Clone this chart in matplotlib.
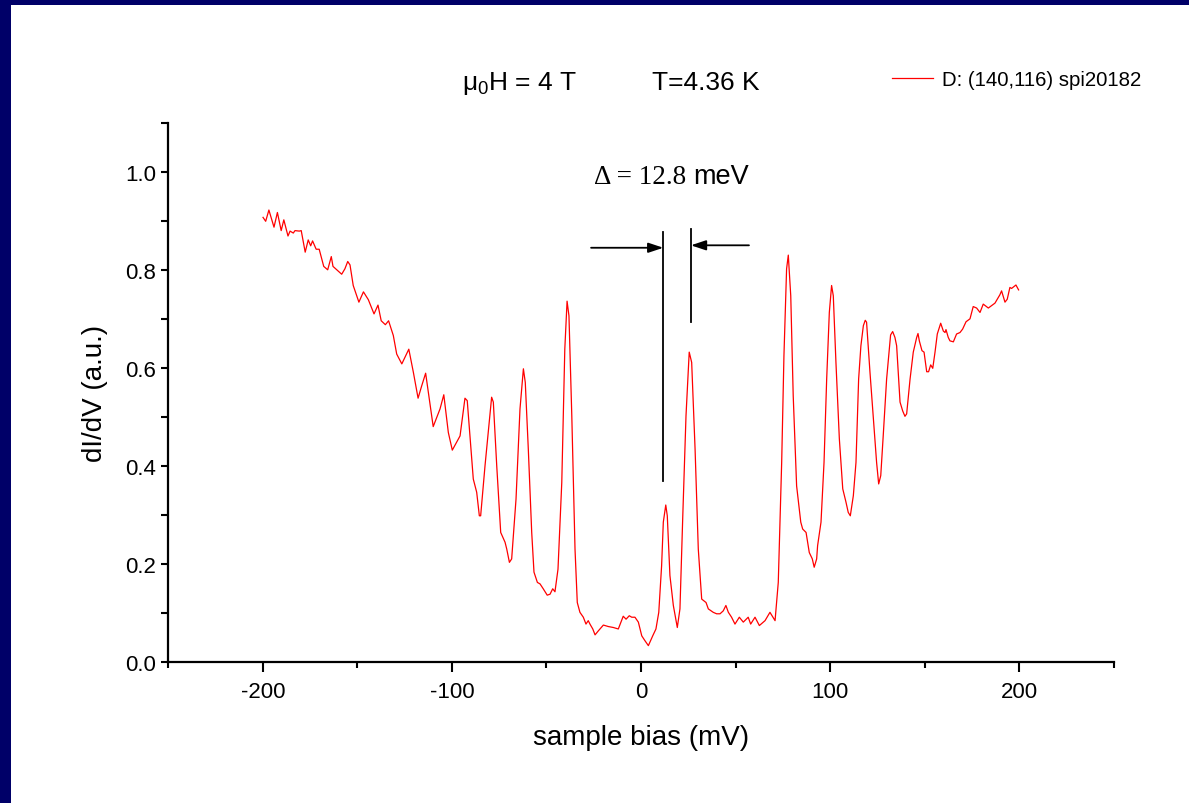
import matplotlib
matplotlib.use("Agg")
import matplotlib.pyplot as plt
from matplotlib.patches import Rectangle
from matplotlib.ticker import MultipleLocator

plt.rcParams['font.family'] = ['Liberation Sans', 'DejaVu Sans']
plt.rcParams['mathtext.fontset'] = 'custom'
plt.rcParams['mathtext.rm'] = 'Liberation Sans'
plt.rcParams['mathtext.it'] = 'Liberation Sans'
plt.rcParams['mathtext.bf'] = 'Liberation Sans:bold'

# ---------------- data ----------------
bias_mv = [-199.9, -198.5, -196.8, -194.1, -192.3, -190.3, -188.9, -186.7, -185.6, -183.9,
           -183.0, -180.7, -179.7, -177.6, -176.0, -174.7, -173.7, -171.8, -170.2, -167.8,
           -165.7, -163.8, -162.9, -160.9, -158.3, -156.6, -155.1, -153.9, -152.2, -149.2,
           -146.8, -144.2, -141.2, -139.1, -137.4, -135.2, -133.5, -131.0, -129.2, -126.5,
           -122.8, -120.4, -117.9, -116.0, -113.9, -109.9, -106.3, -104.3, -101.9, -99.8,
           -95.7, -93.1, -91.9, -88.7, -86.9, -85.5, -84.8, -82.5, -79.0, -78.1,
           -76.3, -74.2, -71.9, -71.0, -69.6, -68.4, -66.1, -64.0, -62.2, -61.2,
           -59.6, -57.8, -56.6, -54.8, -53.4, -51.7, -49.6, -48.1, -46.7, -45.5,
           -43.9, -41.9, -40.3, -39.1, -38.1, -36.6, -34.9, -33.7, -32.3, -30.5,
           -29.1, -27.9, -27.0, -25.5, -24.3, -22.6, -19.9, -17.3, -14.6, -12.0,
           -9.4, -7.9, -6.2, -4.9, -3.2, -1.4, 0.4, 2.1, 3.9, 6.2,
           7.9, 9.4, 10.9, 11.8, 13.1, 13.9, 15.3, 17.1, 19.2, 20.6,
           22.1, 23.8, 25.5, 26.8, 28.6, 30.3, 32.1, 34.4, 35.6, 38.2,
           40.0, 41.8, 43.5, 44.9, 46.2, 47.9, 49.7, 52.0, 54.1, 56.7,
           58.0, 60.3, 62.6, 65.6, 68.2, 70.9, 72.6, 74.4, 75.6, 77.0,
           77.9, 79.2, 80.5, 82.3, 84.5, 85.5, 87.3, 89.0, 90.6, 91.6,
           92.9, 93.4, 95.2, 96.8, 98.2, 99.6, 100.8, 101.7, 103.1, 104.9,
           106.7, 108.4, 109.6, 110.7, 112.3, 113.7, 115.1, 116.3, 117.6, 118.6,
           119.3, 121.1, 122.8, 124.6, 125.7, 126.8, 128.1, 129.9, 132.0, 133.1,
           134.3, 135.2, 137.0, 138.4, 139.6, 140.5, 142.3, 144.0, 145.8, 146.5,
           147.2, 148.6, 149.7, 151.1, 152.1, 153.2, 154.3, 155.5, 156.7, 158.5,
           159.9, 160.8, 161.3, 162.5, 163.4, 165.2, 166.9, 168.7, 170.1, 171.9,
           174.0, 175.7, 177.5, 179.3, 181.0, 183.7, 185.5, 187.2, 189.8, 190.7,
           192.5, 193.7, 195.1, 196.0, 198.3, 199.7]

didv = [0.908, 0.900, 0.923, 0.888, 0.918, 0.881, 0.903, 0.870, 0.880, 0.876,
        0.881, 0.880, 0.881, 0.837, 0.862, 0.850, 0.860, 0.843, 0.843, 0.808,
        0.801, 0.828, 0.808, 0.801, 0.792, 0.803, 0.818, 0.811, 0.769, 0.735,
        0.756, 0.740, 0.711, 0.729, 0.697, 0.689, 0.697, 0.667, 0.629, 0.609,
        0.639, 0.592, 0.539, 0.564, 0.590, 0.481, 0.517, 0.546, 0.469, 0.433,
        0.462, 0.539, 0.534, 0.374, 0.347, 0.299, 0.299, 0.401, 0.541, 0.531,
        0.401, 0.265, 0.245, 0.231, 0.204, 0.211, 0.333, 0.517, 0.599, 0.571,
        0.435, 0.265, 0.184, 0.163, 0.160, 0.150, 0.137, 0.139, 0.150, 0.144,
        0.190, 0.367, 0.639, 0.737, 0.707, 0.503, 0.231, 0.122, 0.102, 0.092,
        0.078, 0.085, 0.078, 0.068, 0.056, 0.064, 0.076, 0.073, 0.071, 0.068,
        0.094, 0.088, 0.095, 0.092, 0.092, 0.082, 0.054, 0.044, 0.034, 0.054,
        0.068, 0.102, 0.197, 0.286, 0.321, 0.299, 0.177, 0.116, 0.071, 0.109,
        0.299, 0.503, 0.633, 0.612, 0.435, 0.231, 0.129, 0.122, 0.109, 0.102,
        0.099, 0.099, 0.105, 0.116, 0.102, 0.092, 0.078, 0.092, 0.082, 0.092,
        0.078, 0.092, 0.075, 0.085, 0.102, 0.085, 0.163, 0.408, 0.626, 0.803,
        0.831, 0.748, 0.544, 0.360, 0.286, 0.272, 0.265, 0.224, 0.211, 0.194,
        0.211, 0.238, 0.286, 0.408, 0.578, 0.714, 0.769, 0.748, 0.612, 0.456,
        0.354, 0.327, 0.306, 0.299, 0.340, 0.408, 0.578, 0.646, 0.687, 0.698,
        0.694, 0.592, 0.503, 0.408, 0.364, 0.381, 0.462, 0.578, 0.668, 0.675,
        0.663, 0.646, 0.531, 0.513, 0.502, 0.507, 0.578, 0.633, 0.663, 0.671,
        0.656, 0.636, 0.633, 0.593, 0.593, 0.607, 0.600, 0.633, 0.670, 0.692,
        0.676, 0.673, 0.679, 0.663, 0.656, 0.654, 0.670, 0.673, 0.680, 0.695,
        0.701, 0.726, 0.723, 0.714, 0.731, 0.723, 0.728, 0.733, 0.750, 0.758,
        0.735, 0.741, 0.765, 0.763, 0.770, 0.760]

series_label = "D: (140,116) spi20182"
x_label = "sample bias (mV)"
y_label = "dI/dV (a.u.)"
field_text = r"$\mu_0$H = 4 T"
temp_text = "T=4.36 K"
gap_value_text = "\u0394 = 12.8"
gap_unit_text = "meV"

# gap marker geometry (data coordinates)
gap_left_x, gap_right_x = 11.8, 26.4
gap_left_y = (0.371, 0.878)
gap_right_y = (0.694, 0.885)
arrow_left = ((-26.4, 0.846), (11.8, 0.846))
arrow_right = ((57.1, 0.851), (26.4, 0.851))

# ---------------- figure ----------------
W, H = 1189, 804
fig = plt.figure(figsize=(W / 100, H / 100), dpi=100, facecolor='white')
navy = '#000068'
fig.add_artist(Rectangle((0, 1 - 6 / H), 1, 6 / H, transform=fig.transFigure,
                         facecolor=navy, edgecolor='none', zorder=0))
fig.add_artist(Rectangle((0, 0), 11 / W, 1, transform=fig.transFigure,
                         facecolor=navy, edgecolor='none', zorder=0))

left, right = 168.3 / W, 1113.7 / W
bottom, top = (H - 663.3) / H, (H - 124.3) / H
ax = fig.add_axes([left, bottom, right - left, top - bottom])
ax.set_facecolor('none')

line, = ax.plot(bias_mv, didv, color='#ff0000', lw=0.9, label=series_label)

ax.set_xlim(-250, 250)
ax.set_ylim(0, 1.1)
ax.xaxis.set_major_locator(MultipleLocator(100))
ax.xaxis.set_minor_locator(MultipleLocator(50))
ax.yaxis.set_major_locator(MultipleLocator(0.2))
ax.yaxis.set_minor_locator(MultipleLocator(0.1))
ax.set_xticks([-200, -100, 0, 100, 200])
ax.set_xticklabels(['-200', '-100', '0', '100', '200'])
ax.set_yticks([0.0, 0.2, 0.4, 0.6, 0.8, 1.0])
ax.set_yticklabels(['0.0', '0.2', '0.4', '0.6', '0.8', '1.0'])

for s in ['top', 'right']:
    ax.spines[s].set_visible(False)
for s in ['left', 'bottom']:
    ax.spines[s].set_linewidth(1.6)

ax.tick_params(axis='x', which='major', direction='out', length=7.5, width=1.5,
               labelsize=16, pad=6)
ax.tick_params(axis='x', which='minor', direction='out', length=4.2, width=1.5)
ax.tick_params(axis='y', which='both', direction='out', length=5, width=1.5,
               labelsize=16, pad=4)

ax.set_xlabel(x_label, fontsize=20, va='center')
ax.xaxis.set_label_coords(0.5, (663.3 - 738) / 539)
ax.set_ylabel(y_label, fontsize=20, va='center')
ax.yaxis.set_label_coords((95 - 168.3) / 945.4, 0.5)

# gap markers
ax.plot([gap_left_x, gap_left_x], gap_left_y, color='black', lw=1.3)
ax.plot([gap_right_x, gap_right_x], gap_right_y, color='black', lw=1.3)
for (start, end) in (arrow_left, arrow_right):
    ax.annotate('', xy=end, xytext=start,
                arrowprops=dict(arrowstyle='-|>,head_length=0.9,head_width=0.3',
                                color='black', lw=1.3, shrinkA=0, shrinkB=0))

ax.text(27.5, 0.992, gap_value_text + " ", family='Liberation Serif', fontsize=19.5,
        ha='right', va='center')
ax.text(27.5, 0.992, gap_unit_text, fontsize=19.5, ha='left', va='center')

# header texts
fig.text(462 / W, 1 - 90 / H, field_text, fontsize=19, ha='left', va='baseline')
fig.text(652 / W, 1 - 90 / H, temp_text, fontsize=19, ha='left', va='baseline')

ax.legend(handles=[line], loc='center left', bbox_to_anchor=(892 / W, 1 - 81 / H),
          bbox_transform=fig.transFigure, frameon=False, fontsize=14.7,
          handlelength=2.0, handletextpad=0.45, borderpad=0, borderaxespad=0)

fig.savefig('out.png', dpi=100, facecolor='white')
